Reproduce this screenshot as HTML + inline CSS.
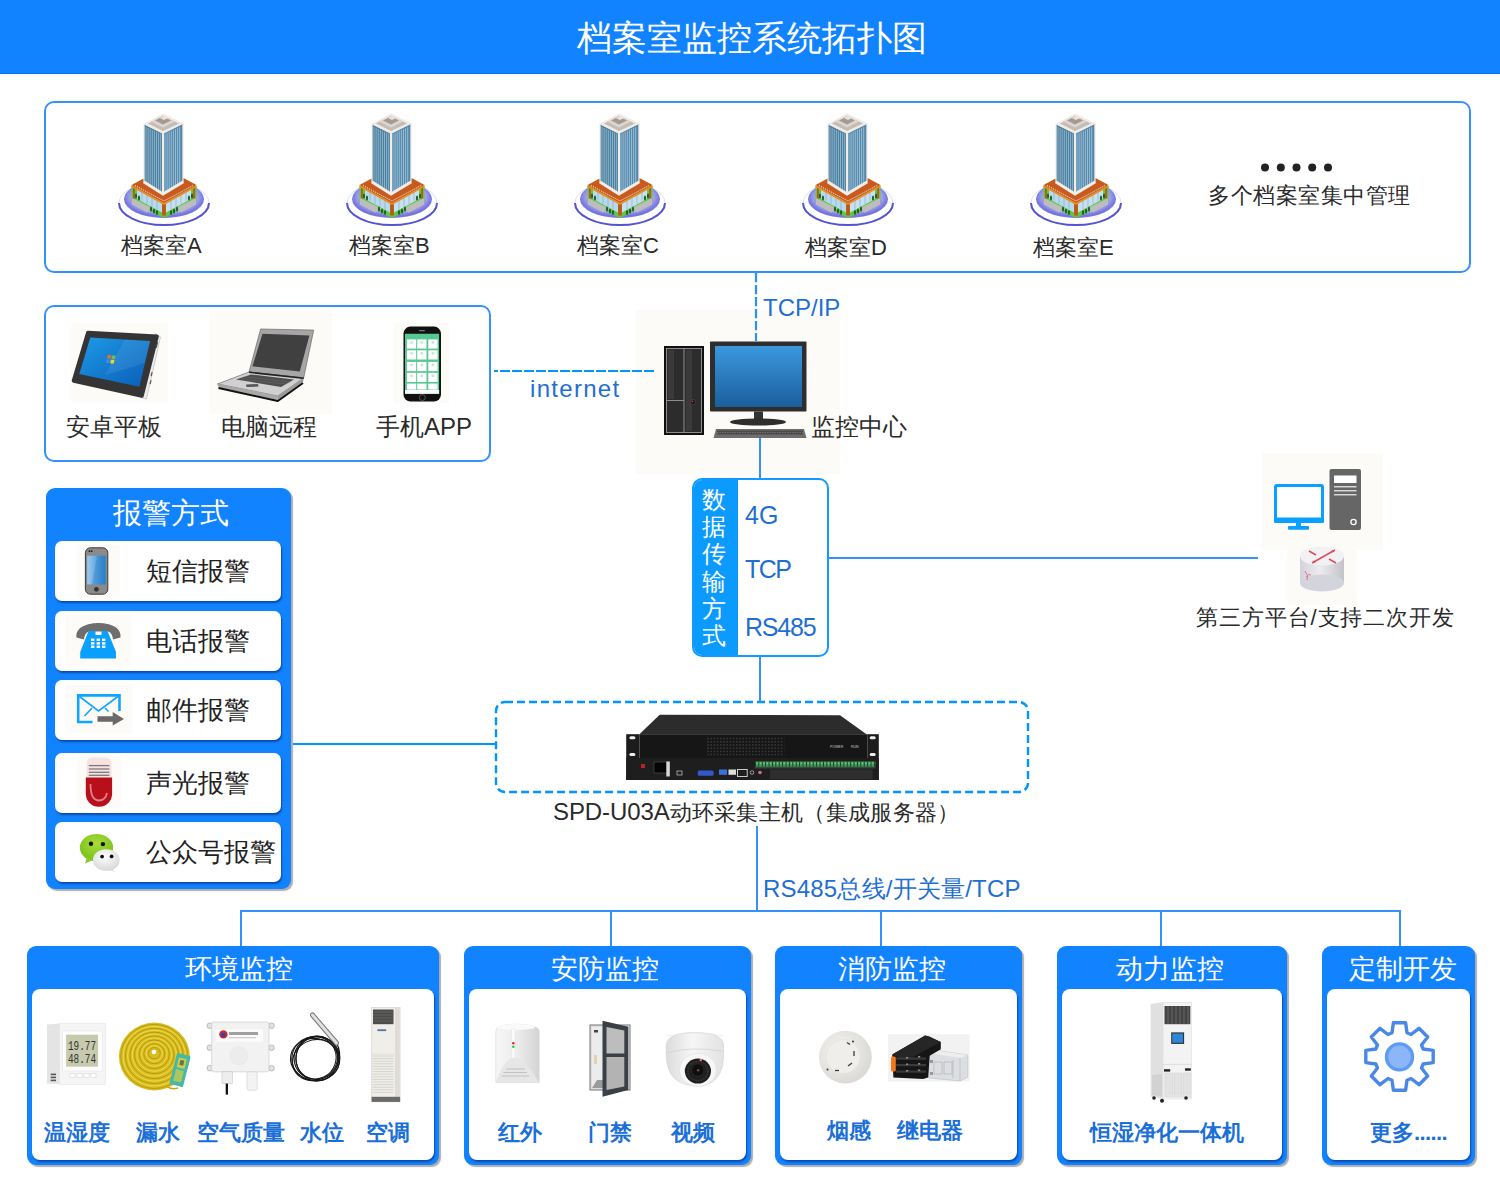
<!DOCTYPE html>
<html><head><meta charset="utf-8"><style>
*{margin:0;padding:0;box-sizing:border-box}
html,body{width:1500px;height:1200px;overflow:hidden;background:#fff;font-family:"Liberation Sans",sans-serif}
.a{position:absolute}
.t{position:absolute;white-space:nowrap;line-height:1}
.hdr{left:0;top:0;width:1500px;height:74px;background:#1283ff;border-bottom:1px solid #0078ff}
.ttl{left:0;width:1500px;top:20px;text-align:center;color:#fff;font-size:35px;padding-left:3px}
.ob{border:2px solid #3592fc;border-radius:10px}
.vl{position:absolute;width:2px;background:#3592fa}
.hl{position:absolute;height:2px;background:#3592fa}
.lbl{color:#2a2a2a;font-size:22px}
.blue{color:#1f6fd2}
.cat{position:absolute;background:#1283ff;border-radius:9px;box-shadow:2px 2px 1px rgba(0,0,0,.32)}
.cat .in{position:absolute;left:5px;right:5px;top:43px;bottom:5px;background:#fff;border-radius:8px;box-shadow:1px 2px 2px rgba(0,30,110,.55)}
.cat .h{position:absolute;left:0;right:0;top:10px;text-align:center;color:#fff;font-size:27px;line-height:1}
.cl{position:absolute;color:#1b6fd8;font-weight:bold;font-size:22px;line-height:1;white-space:nowrap}
.card{position:absolute;left:9px;width:226px;height:60px;background:#fff;border-radius:7px;box-shadow:1px 2px 2px rgba(0,30,110,.55)}
.card .tx{position:absolute;left:91px;top:17px;font-size:26px;color:#222;line-height:1;white-space:nowrap}
</style></head><body>
<div class="a hdr"></div>
<div class="a ob" style="left:44px;top:101px;width:1427px;height:172px"></div>
<div class="a ob" style="left:44px;top:305px;width:447px;height:157px"></div>
<div class="a" style="left:692px;top:478px;width:137px;height:179px;border:2px solid #119bff;border-radius:10px;overflow:hidden;background:#fff">
  <div class="a" style="left:0;top:0;width:44px;height:100%;background:#0b9bff"></div>
</div>
<div class="a" style="left:46px;top:488px;width:245px;height:401px;background:#1283ff;border-radius:9px;box-shadow:2px 2px 1px rgba(0,0,0,.32)">
  <div class="t" style="left:67px;top:11px;font-size:29px;color:#fff">报警方式</div>
  <div class="card" style="top:53px"><div class="tx">短信报警</div></div>
  <div class="card" style="top:123px"><div class="tx">电话报警</div></div>
  <div class="card" style="top:192px"><div class="tx">邮件报警</div></div>
  <div class="card" style="top:265px"><div class="tx">声光报警</div></div>
  <div class="card" style="top:334px"><div class="tx">公众号报警</div></div>
</div>
<div class="cat" style="left:27px;top:946px;width:412px;height:219px"><div class="h" style="left:12px">环境监控</div><div class="in"></div></div>
<div class="cat" style="left:464px;top:946px;width:287px;height:219px"><div class="h" style="left:-5px">安防监控</div><div class="in"></div></div>
<div class="cat" style="left:775px;top:946px;width:247px;height:219px"><div class="h" style="left:-14px">消防监控</div><div class="in"></div></div>
<div class="cat" style="left:1057px;top:946px;width:230px;height:219px"><div class="h" style="left:-4px">动力监控</div><div class="in"></div></div>
<div class="cat" style="left:1322px;top:946px;width:153px;height:219px"><div class="h" style="left:9px">定制开发</div><div class="in"></div></div>
<svg class="a" style="left:0;top:0" width="1500" height="1200" viewBox="0 0 1500 1200"><defs>
<radialGradient id="gEll" cx="50%" cy="45%" r="50%"><stop offset="0" stop-color="#ffffff"/><stop offset="0.6" stop-color="#e4e4fa"/><stop offset="1" stop-color="#7575e0"/></radialGradient>
<linearGradient id="gTab" x1="0" y1="0" x2="1" y2="1"><stop offset="0" stop-color="#1e9ae6"/><stop offset="1" stop-color="#0a5db8"/></linearGradient>
<linearGradient id="gMon" x1="0" y1="0" x2="0" y2="1"><stop offset="0" stop-color="#3b98de"/><stop offset="1" stop-color="#1b5e9c"/></linearGradient>
<linearGradient id="gPh" x1="0" y1="0" x2="1" y2="0"><stop offset="0" stop-color="#9ccaf0"/><stop offset="1" stop-color="#2a82cc"/></linearGradient>
<linearGradient id="gCyl" x1="0" y1="0" x2="1" y2="0"><stop offset="0" stop-color="#d2d2da"/><stop offset="0.45" stop-color="#ececf0"/><stop offset="1" stop-color="#c2c2ca"/></linearGradient>
<linearGradient id="gPir" x1="0" y1="0" x2="1" y2="0"><stop offset="0" stop-color="#f6f6f6"/><stop offset="0.5" stop-color="#ececec"/><stop offset="1" stop-color="#d4d4d4"/></linearGradient>
<radialGradient id="gSmk" cx="40%" cy="40%" r="60%"><stop offset="0" stop-color="#f8f6f3"/><stop offset="1" stop-color="#dcdad6"/></radialGradient>
<radialGradient id="gWc" cx="50%" cy="35%" r="60%"><stop offset="0" stop-color="#a8dc3a"/><stop offset="1" stop-color="#7cc21e"/></radialGradient>
<radialGradient id="gWw" cx="45%" cy="35%" r="65%"><stop offset="0" stop-color="#ffffff"/><stop offset="1" stop-color="#d8d8d8"/></radialGradient>
<pattern id="pTerm" width="3.4" height="5.3" patternUnits="userSpaceOnUse" x="135" y="56.5"><rect x="0" y="0" width="0.9" height="5.3" fill="#1c3a26"/><rect x="1.4" y="1" width="1.4" height="1.4" fill="#8fd8a0"/></pattern><linearGradient id="gDome" x1="0" y1="0" x2="1" y2="0"><stop offset="0" stop-color="#dcdcdc"/><stop offset="0.45" stop-color="#f6f6f6"/><stop offset="1" stop-color="#e2e2e2"/></linearGradient><pattern id="pVent" width="3.2" height="3.2" patternUnits="userSpaceOnUse"><circle cx="1.6" cy="1.6" r="0.85" fill="#3c3c3c"/></pattern>
</defs><g transform="translate(110,105)"><ellipse cx="54" cy="98" rx="45" ry="22" fill="#fff"/><path d="M9,98 A45,22 0 0 0 99,98" fill="none" stroke="#5353d4" stroke-width="2"/><path d="M9,98 A45,22 0 0 1 99,98" fill="none" stroke="#d6d6f4" stroke-width="0.8"/><ellipse cx="54" cy="94" rx="40" ry="19" fill="url(#gEll)"/><polygon points="21.5,81 54,64 86.5,81 86.5,97 54,113 21.5,97" fill="#62c840"/><polygon points="22,93 44,104 37,107.5 22,99.5" fill="#bdbdbd"/><polygon points="86,93 64,104 71,107.5 86,99.5" fill="#bdbdbd"/><polygon points="27,83.5 52,97 52,107.5 27,94" fill="#b6daee"/><polygon points="56,97 81,83.5 81,94 56,107.5" fill="#c4e2f3"/><line x1="32" y1="87.2" x2="32" y2="96.2" stroke="#8fa4b4" stroke-width="0.6"/><line x1="37" y1="89.9" x2="37" y2="98.9" stroke="#8fa4b4" stroke-width="0.6"/><line x1="42" y1="92.6" x2="42" y2="101.6" stroke="#8fa4b4" stroke-width="0.6"/><line x1="47" y1="95.3" x2="47" y2="104.3" stroke="#8fa4b4" stroke-width="0.6"/><line x1="61" y1="95.3" x2="61" y2="104.3" stroke="#8fa4b4" stroke-width="0.6"/><line x1="66" y1="92.6" x2="66" y2="101.6" stroke="#8fa4b4" stroke-width="0.6"/><line x1="71" y1="89.9" x2="71" y2="98.9" stroke="#8fa4b4" stroke-width="0.6"/><line x1="76" y1="87.2" x2="76" y2="96.2" stroke="#8fa4b4" stroke-width="0.6"/><rect x="52.2" y="97.5" width="3.6" height="13" fill="#c2521c"/><rect x="23" y="81.5" width="1.8" height="12" fill="#c2521c"/><rect x="83.2" y="81.5" width="1.8" height="12" fill="#c2521c"/><ellipse cx="26" cy="91" rx="1.1" ry="2.6" fill="#1f5f2a"/><ellipse cx="29" cy="93" rx="1.1" ry="2.6" fill="#1f5f2a"/><ellipse cx="41" cy="104" rx="1.1" ry="2.6" fill="#1f5f2a"/><ellipse cx="44" cy="106" rx="1.1" ry="2.6" fill="#1f5f2a"/><ellipse cx="47" cy="107.5" rx="1.1" ry="2.6" fill="#1f5f2a"/><ellipse cx="61" cy="107.5" rx="1.1" ry="2.6" fill="#1f5f2a"/><ellipse cx="64" cy="106" rx="1.1" ry="2.6" fill="#1f5f2a"/><ellipse cx="67" cy="104" rx="1.1" ry="2.6" fill="#1f5f2a"/><ellipse cx="79" cy="93" rx="1.1" ry="2.6" fill="#1f5f2a"/><ellipse cx="82" cy="91" rx="1.1" ry="2.6" fill="#1f5f2a"/><polygon points="21.5,80 54,62.5 86.5,80 54,98" fill="#c85a1e"/><polyline points="21.5,81 54,99 86.5,81" fill="none" stroke="#f08a22" stroke-width="1.6"/><polyline points="25,80.5 54,96 83,80.5" fill="none" stroke="#fff" stroke-width="0.9" stroke-dasharray="1.2,1.1"/><polygon points="34,19 53,28 53,90 34,78" fill="#4a7c9c"/><polygon points="53,28 73,18.5 73,78 53,90" fill="#5688aa"/><line x1="36.0" y1="21.9" x2="36.0" y2="77.3" stroke="#9cc4d8" stroke-width="0.8"/><line x1="38.1" y1="22.9" x2="38.1" y2="78.6" stroke="#9cc4d8" stroke-width="0.8"/><line x1="40.2" y1="23.9" x2="40.2" y2="79.9" stroke="#9cc4d8" stroke-width="0.8"/><line x1="42.3" y1="24.9" x2="42.3" y2="81.2" stroke="#9cc4d8" stroke-width="0.8"/><line x1="44.4" y1="25.9" x2="44.4" y2="82.6" stroke="#9cc4d8" stroke-width="0.8"/><line x1="46.5" y1="26.9" x2="46.5" y2="83.9" stroke="#9cc4d8" stroke-width="0.8"/><line x1="48.6" y1="27.9" x2="48.6" y2="85.2" stroke="#9cc4d8" stroke-width="0.8"/><line x1="50.7" y1="28.9" x2="50.7" y2="86.5" stroke="#9cc4d8" stroke-width="0.8"/><line x1="55.0" y1="29.1" x2="55.0" y2="86.8" stroke="#a6cce0" stroke-width="0.8"/><line x1="57.1" y1="28.1" x2="57.1" y2="85.5" stroke="#a6cce0" stroke-width="0.8"/><line x1="59.2" y1="27.1" x2="59.2" y2="84.3" stroke="#a6cce0" stroke-width="0.8"/><line x1="61.3" y1="26.1" x2="61.3" y2="83.0" stroke="#a6cce0" stroke-width="0.8"/><line x1="63.4" y1="25.1" x2="63.4" y2="81.8" stroke="#a6cce0" stroke-width="0.8"/><line x1="65.5" y1="24.1" x2="65.5" y2="80.5" stroke="#a6cce0" stroke-width="0.8"/><line x1="67.6" y1="23.1" x2="67.6" y2="79.2" stroke="#a6cce0" stroke-width="0.8"/><line x1="69.7" y1="22.1" x2="69.7" y2="78.0" stroke="#a6cce0" stroke-width="0.8"/><line x1="53" y1="28" x2="53" y2="90" stroke="#f3ede8" stroke-width="2"/><line x1="34" y1="19" x2="34" y2="78" stroke="#f3ede8" stroke-width="1.3"/><line x1="73" y1="18.5" x2="73" y2="78" stroke="#f3ede8" stroke-width="1.3"/><polyline points="34,77 53,89 73,77" fill="none" stroke="#f3ede8" stroke-width="3"/><polygon points="33,19 53,8.5 74,18.5 53,29" fill="#f1ebe5"/><polygon points="38,18.5 53,11 69,18.5 53,26" fill="#c4bcb5"/><polygon points="41,16.5 53,10.5 65,16.5 53,22.5" fill="#ddd6d0"/><polygon points="45,15.5 53,11.5 61,15.5 53,19.5" fill="#a39a93"/><polygon points="50,13 54,11 58,13 54,15" fill="#e8e2dc"/></g><g transform="translate(338,105)"><ellipse cx="54" cy="98" rx="45" ry="22" fill="#fff"/><path d="M9,98 A45,22 0 0 0 99,98" fill="none" stroke="#5353d4" stroke-width="2"/><path d="M9,98 A45,22 0 0 1 99,98" fill="none" stroke="#d6d6f4" stroke-width="0.8"/><ellipse cx="54" cy="94" rx="40" ry="19" fill="url(#gEll)"/><polygon points="21.5,81 54,64 86.5,81 86.5,97 54,113 21.5,97" fill="#62c840"/><polygon points="22,93 44,104 37,107.5 22,99.5" fill="#bdbdbd"/><polygon points="86,93 64,104 71,107.5 86,99.5" fill="#bdbdbd"/><polygon points="27,83.5 52,97 52,107.5 27,94" fill="#b6daee"/><polygon points="56,97 81,83.5 81,94 56,107.5" fill="#c4e2f3"/><line x1="32" y1="87.2" x2="32" y2="96.2" stroke="#8fa4b4" stroke-width="0.6"/><line x1="37" y1="89.9" x2="37" y2="98.9" stroke="#8fa4b4" stroke-width="0.6"/><line x1="42" y1="92.6" x2="42" y2="101.6" stroke="#8fa4b4" stroke-width="0.6"/><line x1="47" y1="95.3" x2="47" y2="104.3" stroke="#8fa4b4" stroke-width="0.6"/><line x1="61" y1="95.3" x2="61" y2="104.3" stroke="#8fa4b4" stroke-width="0.6"/><line x1="66" y1="92.6" x2="66" y2="101.6" stroke="#8fa4b4" stroke-width="0.6"/><line x1="71" y1="89.9" x2="71" y2="98.9" stroke="#8fa4b4" stroke-width="0.6"/><line x1="76" y1="87.2" x2="76" y2="96.2" stroke="#8fa4b4" stroke-width="0.6"/><rect x="52.2" y="97.5" width="3.6" height="13" fill="#c2521c"/><rect x="23" y="81.5" width="1.8" height="12" fill="#c2521c"/><rect x="83.2" y="81.5" width="1.8" height="12" fill="#c2521c"/><ellipse cx="26" cy="91" rx="1.1" ry="2.6" fill="#1f5f2a"/><ellipse cx="29" cy="93" rx="1.1" ry="2.6" fill="#1f5f2a"/><ellipse cx="41" cy="104" rx="1.1" ry="2.6" fill="#1f5f2a"/><ellipse cx="44" cy="106" rx="1.1" ry="2.6" fill="#1f5f2a"/><ellipse cx="47" cy="107.5" rx="1.1" ry="2.6" fill="#1f5f2a"/><ellipse cx="61" cy="107.5" rx="1.1" ry="2.6" fill="#1f5f2a"/><ellipse cx="64" cy="106" rx="1.1" ry="2.6" fill="#1f5f2a"/><ellipse cx="67" cy="104" rx="1.1" ry="2.6" fill="#1f5f2a"/><ellipse cx="79" cy="93" rx="1.1" ry="2.6" fill="#1f5f2a"/><ellipse cx="82" cy="91" rx="1.1" ry="2.6" fill="#1f5f2a"/><polygon points="21.5,80 54,62.5 86.5,80 54,98" fill="#c85a1e"/><polyline points="21.5,81 54,99 86.5,81" fill="none" stroke="#f08a22" stroke-width="1.6"/><polyline points="25,80.5 54,96 83,80.5" fill="none" stroke="#fff" stroke-width="0.9" stroke-dasharray="1.2,1.1"/><polygon points="34,19 53,28 53,90 34,78" fill="#4a7c9c"/><polygon points="53,28 73,18.5 73,78 53,90" fill="#5688aa"/><line x1="36.0" y1="21.9" x2="36.0" y2="77.3" stroke="#9cc4d8" stroke-width="0.8"/><line x1="38.1" y1="22.9" x2="38.1" y2="78.6" stroke="#9cc4d8" stroke-width="0.8"/><line x1="40.2" y1="23.9" x2="40.2" y2="79.9" stroke="#9cc4d8" stroke-width="0.8"/><line x1="42.3" y1="24.9" x2="42.3" y2="81.2" stroke="#9cc4d8" stroke-width="0.8"/><line x1="44.4" y1="25.9" x2="44.4" y2="82.6" stroke="#9cc4d8" stroke-width="0.8"/><line x1="46.5" y1="26.9" x2="46.5" y2="83.9" stroke="#9cc4d8" stroke-width="0.8"/><line x1="48.6" y1="27.9" x2="48.6" y2="85.2" stroke="#9cc4d8" stroke-width="0.8"/><line x1="50.7" y1="28.9" x2="50.7" y2="86.5" stroke="#9cc4d8" stroke-width="0.8"/><line x1="55.0" y1="29.1" x2="55.0" y2="86.8" stroke="#a6cce0" stroke-width="0.8"/><line x1="57.1" y1="28.1" x2="57.1" y2="85.5" stroke="#a6cce0" stroke-width="0.8"/><line x1="59.2" y1="27.1" x2="59.2" y2="84.3" stroke="#a6cce0" stroke-width="0.8"/><line x1="61.3" y1="26.1" x2="61.3" y2="83.0" stroke="#a6cce0" stroke-width="0.8"/><line x1="63.4" y1="25.1" x2="63.4" y2="81.8" stroke="#a6cce0" stroke-width="0.8"/><line x1="65.5" y1="24.1" x2="65.5" y2="80.5" stroke="#a6cce0" stroke-width="0.8"/><line x1="67.6" y1="23.1" x2="67.6" y2="79.2" stroke="#a6cce0" stroke-width="0.8"/><line x1="69.7" y1="22.1" x2="69.7" y2="78.0" stroke="#a6cce0" stroke-width="0.8"/><line x1="53" y1="28" x2="53" y2="90" stroke="#f3ede8" stroke-width="2"/><line x1="34" y1="19" x2="34" y2="78" stroke="#f3ede8" stroke-width="1.3"/><line x1="73" y1="18.5" x2="73" y2="78" stroke="#f3ede8" stroke-width="1.3"/><polyline points="34,77 53,89 73,77" fill="none" stroke="#f3ede8" stroke-width="3"/><polygon points="33,19 53,8.5 74,18.5 53,29" fill="#f1ebe5"/><polygon points="38,18.5 53,11 69,18.5 53,26" fill="#c4bcb5"/><polygon points="41,16.5 53,10.5 65,16.5 53,22.5" fill="#ddd6d0"/><polygon points="45,15.5 53,11.5 61,15.5 53,19.5" fill="#a39a93"/><polygon points="50,13 54,11 58,13 54,15" fill="#e8e2dc"/></g><g transform="translate(566,105)"><ellipse cx="54" cy="98" rx="45" ry="22" fill="#fff"/><path d="M9,98 A45,22 0 0 0 99,98" fill="none" stroke="#5353d4" stroke-width="2"/><path d="M9,98 A45,22 0 0 1 99,98" fill="none" stroke="#d6d6f4" stroke-width="0.8"/><ellipse cx="54" cy="94" rx="40" ry="19" fill="url(#gEll)"/><polygon points="21.5,81 54,64 86.5,81 86.5,97 54,113 21.5,97" fill="#62c840"/><polygon points="22,93 44,104 37,107.5 22,99.5" fill="#bdbdbd"/><polygon points="86,93 64,104 71,107.5 86,99.5" fill="#bdbdbd"/><polygon points="27,83.5 52,97 52,107.5 27,94" fill="#b6daee"/><polygon points="56,97 81,83.5 81,94 56,107.5" fill="#c4e2f3"/><line x1="32" y1="87.2" x2="32" y2="96.2" stroke="#8fa4b4" stroke-width="0.6"/><line x1="37" y1="89.9" x2="37" y2="98.9" stroke="#8fa4b4" stroke-width="0.6"/><line x1="42" y1="92.6" x2="42" y2="101.6" stroke="#8fa4b4" stroke-width="0.6"/><line x1="47" y1="95.3" x2="47" y2="104.3" stroke="#8fa4b4" stroke-width="0.6"/><line x1="61" y1="95.3" x2="61" y2="104.3" stroke="#8fa4b4" stroke-width="0.6"/><line x1="66" y1="92.6" x2="66" y2="101.6" stroke="#8fa4b4" stroke-width="0.6"/><line x1="71" y1="89.9" x2="71" y2="98.9" stroke="#8fa4b4" stroke-width="0.6"/><line x1="76" y1="87.2" x2="76" y2="96.2" stroke="#8fa4b4" stroke-width="0.6"/><rect x="52.2" y="97.5" width="3.6" height="13" fill="#c2521c"/><rect x="23" y="81.5" width="1.8" height="12" fill="#c2521c"/><rect x="83.2" y="81.5" width="1.8" height="12" fill="#c2521c"/><ellipse cx="26" cy="91" rx="1.1" ry="2.6" fill="#1f5f2a"/><ellipse cx="29" cy="93" rx="1.1" ry="2.6" fill="#1f5f2a"/><ellipse cx="41" cy="104" rx="1.1" ry="2.6" fill="#1f5f2a"/><ellipse cx="44" cy="106" rx="1.1" ry="2.6" fill="#1f5f2a"/><ellipse cx="47" cy="107.5" rx="1.1" ry="2.6" fill="#1f5f2a"/><ellipse cx="61" cy="107.5" rx="1.1" ry="2.6" fill="#1f5f2a"/><ellipse cx="64" cy="106" rx="1.1" ry="2.6" fill="#1f5f2a"/><ellipse cx="67" cy="104" rx="1.1" ry="2.6" fill="#1f5f2a"/><ellipse cx="79" cy="93" rx="1.1" ry="2.6" fill="#1f5f2a"/><ellipse cx="82" cy="91" rx="1.1" ry="2.6" fill="#1f5f2a"/><polygon points="21.5,80 54,62.5 86.5,80 54,98" fill="#c85a1e"/><polyline points="21.5,81 54,99 86.5,81" fill="none" stroke="#f08a22" stroke-width="1.6"/><polyline points="25,80.5 54,96 83,80.5" fill="none" stroke="#fff" stroke-width="0.9" stroke-dasharray="1.2,1.1"/><polygon points="34,19 53,28 53,90 34,78" fill="#4a7c9c"/><polygon points="53,28 73,18.5 73,78 53,90" fill="#5688aa"/><line x1="36.0" y1="21.9" x2="36.0" y2="77.3" stroke="#9cc4d8" stroke-width="0.8"/><line x1="38.1" y1="22.9" x2="38.1" y2="78.6" stroke="#9cc4d8" stroke-width="0.8"/><line x1="40.2" y1="23.9" x2="40.2" y2="79.9" stroke="#9cc4d8" stroke-width="0.8"/><line x1="42.3" y1="24.9" x2="42.3" y2="81.2" stroke="#9cc4d8" stroke-width="0.8"/><line x1="44.4" y1="25.9" x2="44.4" y2="82.6" stroke="#9cc4d8" stroke-width="0.8"/><line x1="46.5" y1="26.9" x2="46.5" y2="83.9" stroke="#9cc4d8" stroke-width="0.8"/><line x1="48.6" y1="27.9" x2="48.6" y2="85.2" stroke="#9cc4d8" stroke-width="0.8"/><line x1="50.7" y1="28.9" x2="50.7" y2="86.5" stroke="#9cc4d8" stroke-width="0.8"/><line x1="55.0" y1="29.1" x2="55.0" y2="86.8" stroke="#a6cce0" stroke-width="0.8"/><line x1="57.1" y1="28.1" x2="57.1" y2="85.5" stroke="#a6cce0" stroke-width="0.8"/><line x1="59.2" y1="27.1" x2="59.2" y2="84.3" stroke="#a6cce0" stroke-width="0.8"/><line x1="61.3" y1="26.1" x2="61.3" y2="83.0" stroke="#a6cce0" stroke-width="0.8"/><line x1="63.4" y1="25.1" x2="63.4" y2="81.8" stroke="#a6cce0" stroke-width="0.8"/><line x1="65.5" y1="24.1" x2="65.5" y2="80.5" stroke="#a6cce0" stroke-width="0.8"/><line x1="67.6" y1="23.1" x2="67.6" y2="79.2" stroke="#a6cce0" stroke-width="0.8"/><line x1="69.7" y1="22.1" x2="69.7" y2="78.0" stroke="#a6cce0" stroke-width="0.8"/><line x1="53" y1="28" x2="53" y2="90" stroke="#f3ede8" stroke-width="2"/><line x1="34" y1="19" x2="34" y2="78" stroke="#f3ede8" stroke-width="1.3"/><line x1="73" y1="18.5" x2="73" y2="78" stroke="#f3ede8" stroke-width="1.3"/><polyline points="34,77 53,89 73,77" fill="none" stroke="#f3ede8" stroke-width="3"/><polygon points="33,19 53,8.5 74,18.5 53,29" fill="#f1ebe5"/><polygon points="38,18.5 53,11 69,18.5 53,26" fill="#c4bcb5"/><polygon points="41,16.5 53,10.5 65,16.5 53,22.5" fill="#ddd6d0"/><polygon points="45,15.5 53,11.5 61,15.5 53,19.5" fill="#a39a93"/><polygon points="50,13 54,11 58,13 54,15" fill="#e8e2dc"/></g><g transform="translate(794,105)"><ellipse cx="54" cy="98" rx="45" ry="22" fill="#fff"/><path d="M9,98 A45,22 0 0 0 99,98" fill="none" stroke="#5353d4" stroke-width="2"/><path d="M9,98 A45,22 0 0 1 99,98" fill="none" stroke="#d6d6f4" stroke-width="0.8"/><ellipse cx="54" cy="94" rx="40" ry="19" fill="url(#gEll)"/><polygon points="21.5,81 54,64 86.5,81 86.5,97 54,113 21.5,97" fill="#62c840"/><polygon points="22,93 44,104 37,107.5 22,99.5" fill="#bdbdbd"/><polygon points="86,93 64,104 71,107.5 86,99.5" fill="#bdbdbd"/><polygon points="27,83.5 52,97 52,107.5 27,94" fill="#b6daee"/><polygon points="56,97 81,83.5 81,94 56,107.5" fill="#c4e2f3"/><line x1="32" y1="87.2" x2="32" y2="96.2" stroke="#8fa4b4" stroke-width="0.6"/><line x1="37" y1="89.9" x2="37" y2="98.9" stroke="#8fa4b4" stroke-width="0.6"/><line x1="42" y1="92.6" x2="42" y2="101.6" stroke="#8fa4b4" stroke-width="0.6"/><line x1="47" y1="95.3" x2="47" y2="104.3" stroke="#8fa4b4" stroke-width="0.6"/><line x1="61" y1="95.3" x2="61" y2="104.3" stroke="#8fa4b4" stroke-width="0.6"/><line x1="66" y1="92.6" x2="66" y2="101.6" stroke="#8fa4b4" stroke-width="0.6"/><line x1="71" y1="89.9" x2="71" y2="98.9" stroke="#8fa4b4" stroke-width="0.6"/><line x1="76" y1="87.2" x2="76" y2="96.2" stroke="#8fa4b4" stroke-width="0.6"/><rect x="52.2" y="97.5" width="3.6" height="13" fill="#c2521c"/><rect x="23" y="81.5" width="1.8" height="12" fill="#c2521c"/><rect x="83.2" y="81.5" width="1.8" height="12" fill="#c2521c"/><ellipse cx="26" cy="91" rx="1.1" ry="2.6" fill="#1f5f2a"/><ellipse cx="29" cy="93" rx="1.1" ry="2.6" fill="#1f5f2a"/><ellipse cx="41" cy="104" rx="1.1" ry="2.6" fill="#1f5f2a"/><ellipse cx="44" cy="106" rx="1.1" ry="2.6" fill="#1f5f2a"/><ellipse cx="47" cy="107.5" rx="1.1" ry="2.6" fill="#1f5f2a"/><ellipse cx="61" cy="107.5" rx="1.1" ry="2.6" fill="#1f5f2a"/><ellipse cx="64" cy="106" rx="1.1" ry="2.6" fill="#1f5f2a"/><ellipse cx="67" cy="104" rx="1.1" ry="2.6" fill="#1f5f2a"/><ellipse cx="79" cy="93" rx="1.1" ry="2.6" fill="#1f5f2a"/><ellipse cx="82" cy="91" rx="1.1" ry="2.6" fill="#1f5f2a"/><polygon points="21.5,80 54,62.5 86.5,80 54,98" fill="#c85a1e"/><polyline points="21.5,81 54,99 86.5,81" fill="none" stroke="#f08a22" stroke-width="1.6"/><polyline points="25,80.5 54,96 83,80.5" fill="none" stroke="#fff" stroke-width="0.9" stroke-dasharray="1.2,1.1"/><polygon points="34,19 53,28 53,90 34,78" fill="#4a7c9c"/><polygon points="53,28 73,18.5 73,78 53,90" fill="#5688aa"/><line x1="36.0" y1="21.9" x2="36.0" y2="77.3" stroke="#9cc4d8" stroke-width="0.8"/><line x1="38.1" y1="22.9" x2="38.1" y2="78.6" stroke="#9cc4d8" stroke-width="0.8"/><line x1="40.2" y1="23.9" x2="40.2" y2="79.9" stroke="#9cc4d8" stroke-width="0.8"/><line x1="42.3" y1="24.9" x2="42.3" y2="81.2" stroke="#9cc4d8" stroke-width="0.8"/><line x1="44.4" y1="25.9" x2="44.4" y2="82.6" stroke="#9cc4d8" stroke-width="0.8"/><line x1="46.5" y1="26.9" x2="46.5" y2="83.9" stroke="#9cc4d8" stroke-width="0.8"/><line x1="48.6" y1="27.9" x2="48.6" y2="85.2" stroke="#9cc4d8" stroke-width="0.8"/><line x1="50.7" y1="28.9" x2="50.7" y2="86.5" stroke="#9cc4d8" stroke-width="0.8"/><line x1="55.0" y1="29.1" x2="55.0" y2="86.8" stroke="#a6cce0" stroke-width="0.8"/><line x1="57.1" y1="28.1" x2="57.1" y2="85.5" stroke="#a6cce0" stroke-width="0.8"/><line x1="59.2" y1="27.1" x2="59.2" y2="84.3" stroke="#a6cce0" stroke-width="0.8"/><line x1="61.3" y1="26.1" x2="61.3" y2="83.0" stroke="#a6cce0" stroke-width="0.8"/><line x1="63.4" y1="25.1" x2="63.4" y2="81.8" stroke="#a6cce0" stroke-width="0.8"/><line x1="65.5" y1="24.1" x2="65.5" y2="80.5" stroke="#a6cce0" stroke-width="0.8"/><line x1="67.6" y1="23.1" x2="67.6" y2="79.2" stroke="#a6cce0" stroke-width="0.8"/><line x1="69.7" y1="22.1" x2="69.7" y2="78.0" stroke="#a6cce0" stroke-width="0.8"/><line x1="53" y1="28" x2="53" y2="90" stroke="#f3ede8" stroke-width="2"/><line x1="34" y1="19" x2="34" y2="78" stroke="#f3ede8" stroke-width="1.3"/><line x1="73" y1="18.5" x2="73" y2="78" stroke="#f3ede8" stroke-width="1.3"/><polyline points="34,77 53,89 73,77" fill="none" stroke="#f3ede8" stroke-width="3"/><polygon points="33,19 53,8.5 74,18.5 53,29" fill="#f1ebe5"/><polygon points="38,18.5 53,11 69,18.5 53,26" fill="#c4bcb5"/><polygon points="41,16.5 53,10.5 65,16.5 53,22.5" fill="#ddd6d0"/><polygon points="45,15.5 53,11.5 61,15.5 53,19.5" fill="#a39a93"/><polygon points="50,13 54,11 58,13 54,15" fill="#e8e2dc"/></g><g transform="translate(1022,105)"><ellipse cx="54" cy="98" rx="45" ry="22" fill="#fff"/><path d="M9,98 A45,22 0 0 0 99,98" fill="none" stroke="#5353d4" stroke-width="2"/><path d="M9,98 A45,22 0 0 1 99,98" fill="none" stroke="#d6d6f4" stroke-width="0.8"/><ellipse cx="54" cy="94" rx="40" ry="19" fill="url(#gEll)"/><polygon points="21.5,81 54,64 86.5,81 86.5,97 54,113 21.5,97" fill="#62c840"/><polygon points="22,93 44,104 37,107.5 22,99.5" fill="#bdbdbd"/><polygon points="86,93 64,104 71,107.5 86,99.5" fill="#bdbdbd"/><polygon points="27,83.5 52,97 52,107.5 27,94" fill="#b6daee"/><polygon points="56,97 81,83.5 81,94 56,107.5" fill="#c4e2f3"/><line x1="32" y1="87.2" x2="32" y2="96.2" stroke="#8fa4b4" stroke-width="0.6"/><line x1="37" y1="89.9" x2="37" y2="98.9" stroke="#8fa4b4" stroke-width="0.6"/><line x1="42" y1="92.6" x2="42" y2="101.6" stroke="#8fa4b4" stroke-width="0.6"/><line x1="47" y1="95.3" x2="47" y2="104.3" stroke="#8fa4b4" stroke-width="0.6"/><line x1="61" y1="95.3" x2="61" y2="104.3" stroke="#8fa4b4" stroke-width="0.6"/><line x1="66" y1="92.6" x2="66" y2="101.6" stroke="#8fa4b4" stroke-width="0.6"/><line x1="71" y1="89.9" x2="71" y2="98.9" stroke="#8fa4b4" stroke-width="0.6"/><line x1="76" y1="87.2" x2="76" y2="96.2" stroke="#8fa4b4" stroke-width="0.6"/><rect x="52.2" y="97.5" width="3.6" height="13" fill="#c2521c"/><rect x="23" y="81.5" width="1.8" height="12" fill="#c2521c"/><rect x="83.2" y="81.5" width="1.8" height="12" fill="#c2521c"/><ellipse cx="26" cy="91" rx="1.1" ry="2.6" fill="#1f5f2a"/><ellipse cx="29" cy="93" rx="1.1" ry="2.6" fill="#1f5f2a"/><ellipse cx="41" cy="104" rx="1.1" ry="2.6" fill="#1f5f2a"/><ellipse cx="44" cy="106" rx="1.1" ry="2.6" fill="#1f5f2a"/><ellipse cx="47" cy="107.5" rx="1.1" ry="2.6" fill="#1f5f2a"/><ellipse cx="61" cy="107.5" rx="1.1" ry="2.6" fill="#1f5f2a"/><ellipse cx="64" cy="106" rx="1.1" ry="2.6" fill="#1f5f2a"/><ellipse cx="67" cy="104" rx="1.1" ry="2.6" fill="#1f5f2a"/><ellipse cx="79" cy="93" rx="1.1" ry="2.6" fill="#1f5f2a"/><ellipse cx="82" cy="91" rx="1.1" ry="2.6" fill="#1f5f2a"/><polygon points="21.5,80 54,62.5 86.5,80 54,98" fill="#c85a1e"/><polyline points="21.5,81 54,99 86.5,81" fill="none" stroke="#f08a22" stroke-width="1.6"/><polyline points="25,80.5 54,96 83,80.5" fill="none" stroke="#fff" stroke-width="0.9" stroke-dasharray="1.2,1.1"/><polygon points="34,19 53,28 53,90 34,78" fill="#4a7c9c"/><polygon points="53,28 73,18.5 73,78 53,90" fill="#5688aa"/><line x1="36.0" y1="21.9" x2="36.0" y2="77.3" stroke="#9cc4d8" stroke-width="0.8"/><line x1="38.1" y1="22.9" x2="38.1" y2="78.6" stroke="#9cc4d8" stroke-width="0.8"/><line x1="40.2" y1="23.9" x2="40.2" y2="79.9" stroke="#9cc4d8" stroke-width="0.8"/><line x1="42.3" y1="24.9" x2="42.3" y2="81.2" stroke="#9cc4d8" stroke-width="0.8"/><line x1="44.4" y1="25.9" x2="44.4" y2="82.6" stroke="#9cc4d8" stroke-width="0.8"/><line x1="46.5" y1="26.9" x2="46.5" y2="83.9" stroke="#9cc4d8" stroke-width="0.8"/><line x1="48.6" y1="27.9" x2="48.6" y2="85.2" stroke="#9cc4d8" stroke-width="0.8"/><line x1="50.7" y1="28.9" x2="50.7" y2="86.5" stroke="#9cc4d8" stroke-width="0.8"/><line x1="55.0" y1="29.1" x2="55.0" y2="86.8" stroke="#a6cce0" stroke-width="0.8"/><line x1="57.1" y1="28.1" x2="57.1" y2="85.5" stroke="#a6cce0" stroke-width="0.8"/><line x1="59.2" y1="27.1" x2="59.2" y2="84.3" stroke="#a6cce0" stroke-width="0.8"/><line x1="61.3" y1="26.1" x2="61.3" y2="83.0" stroke="#a6cce0" stroke-width="0.8"/><line x1="63.4" y1="25.1" x2="63.4" y2="81.8" stroke="#a6cce0" stroke-width="0.8"/><line x1="65.5" y1="24.1" x2="65.5" y2="80.5" stroke="#a6cce0" stroke-width="0.8"/><line x1="67.6" y1="23.1" x2="67.6" y2="79.2" stroke="#a6cce0" stroke-width="0.8"/><line x1="69.7" y1="22.1" x2="69.7" y2="78.0" stroke="#a6cce0" stroke-width="0.8"/><line x1="53" y1="28" x2="53" y2="90" stroke="#f3ede8" stroke-width="2"/><line x1="34" y1="19" x2="34" y2="78" stroke="#f3ede8" stroke-width="1.3"/><line x1="73" y1="18.5" x2="73" y2="78" stroke="#f3ede8" stroke-width="1.3"/><polyline points="34,77 53,89 73,77" fill="none" stroke="#f3ede8" stroke-width="3"/><polygon points="33,19 53,8.5 74,18.5 53,29" fill="#f1ebe5"/><polygon points="38,18.5 53,11 69,18.5 53,26" fill="#c4bcb5"/><polygon points="41,16.5 53,10.5 65,16.5 53,22.5" fill="#ddd6d0"/><polygon points="45,15.5 53,11.5 61,15.5 53,19.5" fill="#a39a93"/><polygon points="50,13 54,11 58,13 54,15" fill="#e8e2dc"/></g><circle cx="1265.0" cy="167.5" r="4" fill="#222"/><circle cx="1280.8" cy="167.5" r="4" fill="#222"/><circle cx="1296.5" cy="167.5" r="4" fill="#222"/><circle cx="1312.2" cy="167.5" r="4" fill="#222"/><circle cx="1328.0" cy="167.5" r="4" fill="#222"/><g transform="translate(65,315)">
<rect x="6" y="7.5" width="97" height="80" fill="#fcfbf7"/>
<polygon points="90,18.5 95.5,22 81.5,84 75.5,82.5" fill="#ececec" stroke="#bdbdbd" stroke-width="0.7" stroke-linejoin="round"/><g fill="#555"><rect x="91.3" y="27" width="1.2" height="6" transform="rotate(14 92 30)"/><rect x="86" y="57" width="1.2" height="4" transform="rotate(14 86 59)"/><rect x="85" y="65" width="1.2" height="4" transform="rotate(14 85 67)"/></g>
<polygon points="23,17.8 91.8,21.4 76.8,80.8 8.7,65.7" fill="#353535" stroke="#353535" stroke-width="4" stroke-linejoin="round"/>
<polygon points="25.3,22.6 85.1,26.1 74.4,71.7 14.3,59" fill="url(#gTab)"/>
<polygon points="60,24.5 85.1,26.1 80,48 40,60" fill="#fff" opacity="0.08"/>
<g transform="translate(46,44) skewX(-10)"><rect x="-4" y="-4" width="3.6" height="3.6" fill="#f06a2a"/><rect x="0.4" y="-3.6" width="3.6" height="3.6" fill="#6cc04a"/><rect x="-4.4" y="0.4" width="3.6" height="3.6" fill="#3a8ee8"/><rect x="0" y="0.8" width="3.6" height="3.6" fill="#f6d22a"/></g>
</g><g transform="translate(205,305)">
<rect x="4.8" y="5.7" width="122" height="103.3" fill="#fcfbf7"/>
<polygon points="55.6,24 108.7,25.1 98.7,72.8 44,67" fill="#a6a6a6" stroke="#6a6a6a" stroke-width="0.7"/>
<polygon points="57.5,28.7 104.4,30.5 94.8,66.6 47.4,61.3" fill="#404040"/>
<polygon points="12.5,79 44,67 98.7,73 72.8,91" fill="#d0d0d0" stroke="#555" stroke-width="0.6"/>
<polygon points="12.5,79 72.8,91 72.8,95 13.5,82.5" fill="#a8a8a8"/>
<polygon points="72.8,91 98.7,73 98,77 72.8,95" fill="#9a9a9a"/>
<polyline points="13.5,83 72.8,96 98,78" fill="none" stroke="#111" stroke-width="2" stroke-linejoin="round"/>
<polyline points="44,67.3 98.7,73.3" fill="none" stroke="#222" stroke-width="1.6"/>
<polygon points="31,74.5 46,69.5 89,74.5 76,82" fill="#4e4e4e"/>
<g stroke="#777" stroke-width="0.4"><line x1="36" y1="74" x2="81" y2="79"/><line x1="40" y1="72" x2="85" y2="77"/></g>
<polygon points="41,79.5 53,79 53.5,81.6 41.5,82" fill="#555"/>
</g><g transform="translate(390,318)"><rect x="4" y="4.9" width="55" height="80" fill="#fcfbf7"/><rect x="13.5" y="8.6" width="37.5" height="75" rx="7" fill="#111"/><rect x="15" y="15.75" width="34.1" height="60" fill="#56c892"/><rect x="16.9" y="21.4" width="9.3" height="9.2" fill="#fff"/><circle cx="21.5" cy="24.4" r="1.4" fill="#bfe8d2"/><rect x="16.9" y="32.3" width="9.3" height="9.2" fill="#fff"/><circle cx="21.5" cy="35.3" r="1.4" fill="#bfe8d2"/><rect x="16.9" y="43.9" width="9.3" height="9.2" fill="#fff"/><circle cx="21.5" cy="46.9" r="1.4" fill="#bfe8d2"/><rect x="16.9" y="54.8" width="9.3" height="9.2" fill="#fff"/><circle cx="21.5" cy="57.8" r="1.4" fill="#bfe8d2"/><rect x="16.9" y="65.6" width="9.3" height="6" fill="#fff"/><rect x="27.2" y="21.4" width="9.3" height="9.2" fill="#fff"/><circle cx="31.8" cy="24.4" r="1.4" fill="#bfe8d2"/><rect x="27.2" y="32.3" width="9.3" height="9.2" fill="#fff"/><circle cx="31.8" cy="35.3" r="1.4" fill="#bfe8d2"/><rect x="27.2" y="43.9" width="9.3" height="9.2" fill="#fff"/><circle cx="31.8" cy="46.9" r="1.4" fill="#bfe8d2"/><rect x="27.2" y="54.8" width="9.3" height="9.2" fill="#fff"/><circle cx="31.8" cy="57.8" r="1.4" fill="#bfe8d2"/><rect x="27.2" y="65.6" width="9.3" height="6" fill="#fff"/><rect x="38.3" y="21.4" width="9.3" height="9.2" fill="#fff"/><circle cx="42.9" cy="24.4" r="1.4" fill="#bfe8d2"/><rect x="38.3" y="32.3" width="9.3" height="9.2" fill="#fff"/><circle cx="42.9" cy="35.3" r="1.4" fill="#bfe8d2"/><rect x="38.3" y="43.9" width="9.3" height="9.2" fill="#fff"/><circle cx="42.9" cy="46.9" r="1.4" fill="#bfe8d2"/><rect x="38.3" y="54.8" width="9.3" height="9.2" fill="#fff"/><circle cx="42.9" cy="57.8" r="1.4" fill="#bfe8d2"/><rect x="38.3" y="65.6" width="9.3" height="6" fill="#fff"/><rect x="15" y="72" width="34.1" height="3.8" fill="#fff"/><circle cx="32.3" cy="79.5" r="3" fill="none" stroke="#666" stroke-width="0.8"/><rect x="29" y="12" width="6" height="1.2" rx="0.6" fill="#777"/></g><rect x="636" y="310" width="204" height="164" fill="#fcfbf7"/>
<rect x="664" y="346" width="40" height="89" fill="#111"/>
<rect x="666.5" y="348.5" width="35" height="84" fill="#2c2c2c" stroke="#9a9a9a" stroke-width="0.9"/>
<line x1="684" y1="348.5" x2="684" y2="432.5" stroke="#9a9a9a" stroke-width="0.9"/>
<line x1="666.5" y1="400.5" x2="684" y2="400.5" stroke="#9a9a9a" stroke-width="0.9"/>
<rect x="668" y="350" width="6" height="49" fill="#3a3a3a"/>
<rect x="686" y="350" width="6" height="81" fill="#3a3a3a"/>
<circle cx="693" cy="402" r="2.6" fill="#111" stroke="#555" stroke-width="0.6"/><circle cx="692.5" cy="401.5" r="1" fill="#c33"/>
<rect x="710" y="341.5" width="96.5" height="70" rx="1" fill="#2e2e2e"/>
<rect x="715" y="346" width="87" height="61" fill="url(#gMon)"/>
<rect x="754" y="411.5" width="9" height="8" fill="#333"/>
<ellipse cx="758" cy="422" rx="28" ry="3.6" fill="#2e2e2e"/>
<polygon points="716,429 804,429 806.5,438 713.5,438" fill="#6e6e6e"/>
<rect x="717" y="430.5" width="86" height="4" fill="#4a4a4a"/>
<line x1="717" y1="432.5" x2="803" y2="432.5" stroke="#8a8a8a" stroke-width="0.6" stroke-dasharray="1.5,1"/><rect x="1262" y="453" width="121" height="97" fill="#fcfbf7"/>
<rect x="1287" y="550" width="70" height="55" fill="#fcfbf7"/>
<rect x="1275.5" y="485.5" width="47" height="35" rx="1.5" fill="#fff" stroke="#0aa0ff" stroke-width="3"/>
<rect x="1274" y="517.5" width="50" height="5.5" rx="1" fill="#0aa0ff"/>
<rect x="1296" y="522" width="5" height="4.5" fill="#0aa0ff"/>
<rect x="1288" y="526" width="21" height="3.7" rx="1" fill="#0aa0ff"/>
<rect x="1329.5" y="469" width="31.5" height="61" rx="2" fill="#666"/>
<rect x="1334" y="475.5" width="22.5" height="7.5" fill="#fff"/>
<line x1="1334" y1="486.8" x2="1356.5" y2="486.8" stroke="#fff" stroke-width="1.1"/>
<line x1="1334" y1="490.8" x2="1356.5" y2="490.8" stroke="#fff" stroke-width="1.1"/>
<line x1="1334" y1="494.8" x2="1356.5" y2="494.8" stroke="#fff" stroke-width="1.1"/>
<circle cx="1353.5" cy="522" r="2.6" fill="none" stroke="#fff" stroke-width="1.3"/>
<rect x="1300" y="556" width="44" height="27" fill="url(#gCyl)"/>
<ellipse cx="1322" cy="583" rx="22" ry="8.5" fill="#d4d4dc"/>
<ellipse cx="1322" cy="556" rx="22" ry="9.5" fill="#f2f2f5"/>
<path d="M1309,551 L1316,555 M1335,550 L1312,563 M1329,559 L1336,563" stroke="#e04a5a" stroke-width="1.5"/>
<path d="M1335,550 l-3.5,0.2 l1.5,2.2 z M1312,563 l3.5,-0.3 l-1.6,-2.1 z" fill="#e04a5a"/>
<path d="M1305,571 q4,5 2,9 M1306,577 q3,-4 5,-2" stroke="#e06a7a" stroke-width="0.9" fill="none"/><g transform="translate(65,540)">
<rect x="12" y="4.9" width="42.7" height="53.6" fill="#fcfbf7"/>
<rect x="20.4" y="7.8" width="22.4" height="46.4" rx="5" fill="#8a8a8a" stroke="#3a3a3a" stroke-width="1"/>
<rect x="22.2" y="15.7" width="18.4" height="28.7" fill="url(#gPh)"/>
<polygon points="32,15.7 40.6,15.7 40.6,44.4 27,44.4" fill="#1f78c8" opacity="0.35"/>
<circle cx="31.4" cy="49.3" r="2.4" fill="#333"/>
<circle cx="24.5" cy="11.2" r="0.9" fill="#222"/><circle cx="26.6" cy="11.2" r="0.9" fill="#222"/>
<rect x="1" y="74.8" width="65" height="51" fill="#fcfbf7"/>
<path d="M11.5,97.5 C10,86 25,83 33.5,83 C42,83 57,86 55.5,97.5 L48,99.5 C47.5,94 45,91.5 42,91.5 L25,91.5 C22,91.5 19.5,94 19,99.5 Z" fill="#6e6e6e"/>
<path d="M23.5,91 L30.5,91 L30.5,95 L36.5,95 L36.5,91 L42.5,91 L51,112 L51,118.6 L15.2,118.6 L15.2,112 Z" fill="#0aa0ff"/>
<g fill="#fff"><rect x="26" y="98.6" width="3.4" height="2.4"/><rect x="31.6" y="98.6" width="3.4" height="2.4"/><rect x="37" y="98.6" width="3.4" height="2.4"/>
<rect x="26" y="102.2" width="3.4" height="2.4"/><rect x="31.6" y="102.2" width="3.4" height="2.4"/><rect x="37" y="102.2" width="3.4" height="2.4"/>
<rect x="26" y="105.6" width="3.4" height="2.4"/><rect x="31.6" y="105.6" width="3.4" height="2.4"/><rect x="37" y="105.6" width="3.4" height="2.4"/></g>
</g>
<g transform="translate(65,680)">
<rect x="1" y="4.9" width="65.6" height="48.7" fill="#fcfbf7"/>
<path d="M27.5,42 L13.2,42 L13.2,15.4 L54.5,15.4 L54.5,31" fill="none" stroke="#10a5ff" stroke-width="2.6"/>
<path d="M14.5,16.5 L33.5,31 L53,16.5 M19.5,36 L27,28 M40,28 L43.5,31.5" fill="none" stroke="#10a5ff" stroke-width="1.6"/>
<polygon points="32.5,36.3 47.7,36.3 47.7,32 59,38.9 47.7,45.5 47.7,41.7 32.5,41.7" fill="#6a6a6a"/>
<rect x="12" y="75.8" width="44" height="52.6" fill="#fcfbf7"/>
<path d="M21.7,97.5 L21.7,84 Q21.7,77.5 28,77.5 L40.3,77.5 Q46.6,77.5 46.6,84 L46.6,97.5 Z" fill="#f7e2e2"/>
<g stroke="#7a7a7a" stroke-width="1.3"><line x1="23.8" y1="85.6" x2="44.4" y2="85.6"/><line x1="23.8" y1="89" x2="44.4" y2="89"/><line x1="23.8" y1="92.3" x2="44.4" y2="92.3"/><line x1="23.8" y1="95.3" x2="44.4" y2="95.3"/></g>
<path d="M20.8,97.5 L47.1,97.5 L47.1,113.7 A13.15,13.15 0 0 1 20.8,113.7 Z" fill="#b80f1a"/>
<path d="M25.5,104 Q25.5,120.5 34,120.5 Q40.5,120.5 42,113" fill="none" stroke="#f0a8b0" stroke-width="1.8" opacity="0.75"/>
</g>
<g transform="translate(65,820)">
<ellipse cx="31.5" cy="27.6" rx="16.7" ry="13.5" fill="url(#gWc)"/>
<polygon points="22,37 20,43.5 28,40" fill="#86cc22"/>
<circle cx="26" cy="23.8" r="2.2" fill="#111"/><circle cx="37.9" cy="24.1" r="2.2" fill="#111"/>
<ellipse cx="41.3" cy="40" rx="13.4" ry="10.8" fill="url(#gWw)"/>
<polygon points="47,49 50.5,52 44.5,50.3" fill="#ddd"/>
<circle cx="37.1" cy="36.6" r="1.9" fill="#111"/><circle cx="46.6" cy="36.4" r="1.9" fill="#111"/>
</g><g transform="translate(620,705)">
<polygon points="39.7,9.7 220,10.2 246.5,29.2 19.4,29.2" fill="#2c2c2c"/>
<rect x="19.4" y="29.2" width="227.9" height="23.8" fill="#161616"/>
<rect x="86.6" y="31.8" width="77.7" height="19.4" fill="url(#pVent)"/>
<rect x="6.2" y="29.2" width="13.2" height="45.8" fill="#1c1c1c"/>
<rect x="247.3" y="29.2" width="11.5" height="45.8" fill="#1c1c1c"/>
<rect x="9.4" y="31.3" width="6" height="3" rx="1.5" fill="#eee"/><rect x="9.4" y="48" width="6" height="3" rx="1.5" fill="#eee"/>
<rect x="249.7" y="31.3" width="6" height="3" rx="1.5" fill="#eee"/><rect x="249.7" y="48" width="6" height="3" rx="1.5" fill="#eee"/>
<rect x="6.2" y="53" width="252.6" height="22" fill="#1e1e1e"/>
<rect x="135" y="56.5" width="120.3" height="5.3" fill="#3a9e58"/><rect x="135" y="56.5" width="120.3" height="5.3" fill="url(#pTerm)"/><rect x="135" y="62.3" width="120.3" height="1" fill="#777" opacity="0.6"/>
<rect x="150" y="64.5" width="102.7" height="9.7" fill="#2e2e2e"/>
<rect x="34" y="57" width="14" height="11" fill="#050505" stroke="#555" stroke-width="0.6"/>
<rect x="46.3" y="56.5" width="3.5" height="15" fill="#d8d8d8"/>
<rect x="21" y="59" width="4" height="4" fill="#b22"/>
<rect x="77.7" y="65.4" width="15.9" height="5.3" rx="1.5" fill="#3358c8"/>
<rect x="99" y="64.5" width="8" height="5.3" fill="#3a70dc"/>
<rect x="108.5" y="64.5" width="7.5" height="5.3" fill="#ddd"/>
<rect x="117.5" y="64.5" width="9.7" height="7" fill="none" stroke="#ddd" stroke-width="0.9"/>
<rect x="57" y="66" width="5" height="4" fill="none" stroke="#ccc" stroke-width="0.7"/>
<circle cx="132" cy="67.5" r="1.8" fill="none" stroke="#ccc" stroke-width="0.7"/>
<circle cx="140" cy="67.5" r="1.8" fill="#d06aa0"/>
<text x="210" y="43" font-size="3.5" fill="#ccc" font-family="Liberation Sans">POWER</text>
<text x="231" y="43" font-size="3.5" fill="#ccc" font-family="Liberation Sans">RUN</text>
</g><g transform="translate(40,1000)">
<polygon points="6.9,24.5 19.7,23.5 19.7,84.3 6.9,83.5" fill="#e4e4e4"/>
<rect x="19.7" y="23.5" width="45.9" height="60.8" fill="#f5f5f5" stroke="#e0e0e0" stroke-width="0.5"/>
<rect x="22.7" y="31" width="39.5" height="40" fill="#fdfdfd" stroke="#e6e6e6" stroke-width="0.6"/>
<rect x="26.1" y="34.7" width="32" height="32" fill="#c8caae"/>
<text x="28" y="49.5" font-size="13" fill="#333" font-family="Liberation Mono" textLength="28" lengthAdjust="spacingAndGlyphs">19.77</text>
<text x="28" y="63" font-size="13" fill="#333" font-family="Liberation Mono" textLength="28" lengthAdjust="spacingAndGlyphs">48.74</text>
<g fill="#fff" stroke="#cfcfcf" stroke-width="0.5"><rect x="30" y="73.6" width="5" height="4"/><rect x="37" y="73.6" width="5" height="4"/><rect x="44" y="73.6" width="5" height="4"/><rect x="51" y="73.6" width="5" height="4"/></g>
<g fill="#555"><rect x="10.7" y="73.6" width="5.3" height="1.6"/><rect x="10.7" y="76.6" width="5.3" height="1.6"/><rect x="10.7" y="79.6" width="5.3" height="1.6"/></g>
<ellipse cx="114.4" cy="56.5" rx="35.5" ry="33.9" fill="#d9bd20"/><ellipse cx="114.3" cy="56.5" rx="33.5" ry="32.0" fill="none" stroke="#b3950c" stroke-width="0.9"/><ellipse cx="114.3" cy="56.2" rx="31.2" ry="29.8" fill="none" stroke="#f0dc50" stroke-width="0.9"/><ellipse cx="114.3" cy="55.9" rx="28.9" ry="27.6" fill="none" stroke="#b3950c" stroke-width="0.9"/><ellipse cx="114.3" cy="55.7" rx="26.6" ry="25.4" fill="none" stroke="#f0dc50" stroke-width="0.9"/><ellipse cx="114.3" cy="55.4" rx="24.3" ry="23.2" fill="none" stroke="#b3950c" stroke-width="0.9"/><ellipse cx="114.3" cy="55.1" rx="22.0" ry="21.0" fill="none" stroke="#f0dc50" stroke-width="0.9"/><ellipse cx="114.3" cy="54.8" rx="19.7" ry="18.8" fill="none" stroke="#b3950c" stroke-width="0.9"/><ellipse cx="114.3" cy="54.6" rx="17.4" ry="16.6" fill="none" stroke="#f0dc50" stroke-width="0.9"/><ellipse cx="114.3" cy="54.3" rx="15.1" ry="14.4" fill="none" stroke="#b3950c" stroke-width="0.9"/><ellipse cx="114.3" cy="54.0" rx="12.8" ry="12.2" fill="none" stroke="#f0dc50" stroke-width="0.9"/><ellipse cx="114.3" cy="53.7" rx="10.5" ry="10.0" fill="none" stroke="#b3950c" stroke-width="0.9"/><ellipse cx="114.3" cy="53.5" rx="8.2" ry="7.8" fill="none" stroke="#f0dc50" stroke-width="0.9"/><ellipse cx="114.3" cy="53.2" rx="5.9" ry="5.6" fill="none" stroke="#b3950c" stroke-width="0.9"/><circle cx="114" cy="52" r="2.3" fill="#fff"/><g transform="rotate(14 140 70)"><rect x="133" y="54" width="14" height="32" rx="1" fill="#46b8a6"/><rect x="136" y="58" width="8" height="10" fill="#c8d050"/><rect x="136" y="70" width="8" height="12" fill="#b8c858" opacity="0.9"/><rect x="138" y="60" width="4" height="5" fill="#333" opacity="0.6"/></g><path d="M126,86 Q131,90 138,88" fill="none" stroke="#c8a810" stroke-width="1.5"/>
</g><g transform="translate(200,1000)">
<g fill="#e2e2e2" stroke="#9a9a9a" stroke-width="0.6"><circle cx="9.8" cy="25.7" r="2.8"/><circle cx="71.5" cy="25.7" r="2.8"/><circle cx="9.8" cy="47.7" r="2.8"/><circle cx="71.5" cy="47.7" r="2.8"/><circle cx="9.8" cy="68.2" r="2.8"/><circle cx="71.5" cy="68.2" r="2.8"/></g>
<rect x="11.7" y="22" width="57.2" height="49.8" rx="2" fill="#f2f2f2" stroke="#d0d0d0" stroke-width="0.8"/>
<rect x="15.4" y="29.3" width="47.6" height="12.5" fill="#fbfbfb"/>
<circle cx="23.4" cy="34.4" r="4.2" fill="#d42a2a"/><circle cx="23.4" cy="34.8" r="2.4" fill="#2a4ab0"/>
<rect x="29" y="32" width="29" height="3" fill="#555" opacity="0.55"/>
<rect x="29" y="37.2" width="27" height="1" fill="#888" opacity="0.5"/>
<circle cx="38.9" cy="55.7" r="9" fill="#ececec" stroke="#e0e0e0" stroke-width="0.5"/>
<rect x="22" y="71.8" width="10.3" height="11.8" fill="#eee" stroke="#bbb" stroke-width="0.5"/>
<rect x="25.7" y="83.6" width="2.3" height="11" fill="#111"/>
<rect x="47" y="71.8" width="10.2" height="18.4" rx="2" fill="#f3f3f3" stroke="#cdcdcd" stroke-width="0.6"/>
<g fill="none" stroke="#161616" stroke-width="1.1">
<ellipse cx="115.8" cy="58.7" rx="24" ry="22.3"/><ellipse cx="116.5" cy="58" rx="22.5" ry="21.5" transform="rotate(-12 116 58)"/><ellipse cx="115" cy="59.5" rx="24.5" ry="21" transform="rotate(10 115 59)"/><ellipse cx="117" cy="58.5" rx="21" ry="22.5"/><ellipse cx="115" cy="60" rx="23" ry="20" transform="rotate(-25 115 60)"/><ellipse cx="116" cy="58" rx="20" ry="21" transform="rotate(20 116 58)"/></g>
<path d="M137,44 Q141,52 139,62" fill="none" stroke="#161616" stroke-width="1.3"/>
<line x1="112.5" y1="15" x2="136.5" y2="43" stroke="#777" stroke-width="5" stroke-linecap="round"/>
<line x1="112.5" y1="15" x2="136.5" y2="43" stroke="#e0e0e0" stroke-width="3" stroke-linecap="round"/>
<rect x="171.6" y="7.3" width="28.5" height="94.6" fill="#efeee9" stroke="#d2d1cc" stroke-width="0.6"/>
<rect x="195" y="7.6" width="4.8" height="94" fill="#dedcd5"/>
<rect x="173" y="9.5" width="20.5" height="14.7" fill="#4c4c4c"/>
<g stroke="#7a7a7a" stroke-width="0.5"><line x1="173" y1="12" x2="193.5" y2="12"/><line x1="173" y1="15" x2="193.5" y2="15"/><line x1="173" y1="18" x2="193.5" y2="18"/><line x1="173" y1="21" x2="193.5" y2="21"/></g>
<rect x="177.4" y="29.3" width="8.8" height="1.8" fill="#55779f"/>
<line x1="172" y1="54" x2="195" y2="54" stroke="#d8d8d0" stroke-width="0.6"/>
<g stroke="#c9c9c2" stroke-width="0.7"><line x1="172.5" y1="56.0" x2="193.5" y2="56.0"/><line x1="172.5" y1="58.6" x2="193.5" y2="58.6"/><line x1="172.5" y1="61.2" x2="193.5" y2="61.2"/><line x1="172.5" y1="63.8" x2="193.5" y2="63.8"/><line x1="172.5" y1="66.4" x2="193.5" y2="66.4"/><line x1="172.5" y1="69.0" x2="193.5" y2="69.0"/><line x1="172.5" y1="71.6" x2="193.5" y2="71.6"/><line x1="172.5" y1="74.2" x2="193.5" y2="74.2"/><line x1="172.5" y1="76.8" x2="193.5" y2="76.8"/><line x1="172.5" y1="79.4" x2="193.5" y2="79.4"/><line x1="172.5" y1="82.0" x2="193.5" y2="82.0"/><line x1="172.5" y1="84.6" x2="193.5" y2="84.6"/><line x1="172.5" y1="87.2" x2="193.5" y2="87.2"/><line x1="172.5" y1="89.8" x2="193.5" y2="89.8"/><line x1="172.5" y1="92.4" x2="193.5" y2="92.4"/></g>
<rect x="171.6" y="96.8" width="28.5" height="5.1" fill="#6a6a6a"/>
</g><g transform="translate(485,1010)">
<path d="M10.8,72.5 L10.8,21 Q11,14.2 30,14.2 Q54,14.2 54.2,21 L54.2,72.5 Z" fill="url(#gPir)" stroke="#d6d6d6" stroke-width="0.6"/>
<ellipse cx="31" cy="17" rx="19" ry="3" fill="#fafafa"/>
<rect x="26.7" y="19" width="3.3" height="29" fill="#fbfbfb" stroke="#dedede" stroke-width="0.4"/>
<circle cx="28.3" cy="33.3" r="1.3" fill="#e62a2a"/><circle cx="28.3" cy="36.7" r="1.3" fill="#3cbf3c"/>
<path d="M11,72.5 Q17,52 27,48 L30,48 Q42,51 54,72.5 Z" fill="#e6e6e6"/>
<g stroke="#b8b8b8" stroke-width="0.8"><line x1="21" y1="59" x2="40" y2="59"/><line x1="18.5" y1="62.5" x2="42" y2="62.5"/><line x1="17" y1="66" x2="44" y2="66"/></g>
<rect x="105" y="15" width="40" height="65" fill="#dcdcdc" stroke="#8a8a8a" stroke-width="1.2"/>
<rect x="107" y="17" width="36" height="61" fill="#ececec"/>
<polygon points="107,78 112,70 143,70 143,78" fill="#9a9a9a"/>
<rect x="109" y="20" width="4" height="2.5" fill="#444"/>
<rect x="109" y="45" width="3" height="9" fill="#e6d2a8"/>
<polygon points="117.5,10.8 143.3,16.7 143.3,80 117.5,86.7" fill="#3a4046"/>
<polygon points="121.5,17 139.3,20.5 139.3,43.5 121.5,43.5" fill="#bdbdbd"/>
<polygon points="121.5,47 139.3,47 139.3,76.5 121.5,80" fill="#b3b3b3"/>
<path d="M181.2,36 Q181.2,22.6 210,22.6 Q238.6,22.6 238.6,36 L238.6,44 Q238.6,75.7 212,75.7 Q181.2,75.7 181.2,44 Z" fill="url(#gDome)" stroke="#d4d4d4" stroke-width="0.7"/>
<path d="M181.5,26 Q210,20 238.5,26" fill="none" stroke="#e6e6e6" stroke-width="0.6"/>
<path d="M183,43 Q205,36 237,41" fill="none" stroke="#cfcfcf" stroke-width="0.7"/>
<ellipse cx="212.9" cy="59.9" rx="18.4" ry="16.6" fill="#f7f7f7" stroke="#dedede" stroke-width="0.6"/>
<ellipse cx="212.9" cy="61.1" rx="13.1" ry="12.5" fill="#1e1e1e"/>
<ellipse cx="212.9" cy="61.1" rx="10" ry="9.5" fill="none" stroke="#3a3a3a" stroke-width="1.6" stroke-dasharray="1.5,1.2"/>
<circle cx="212.9" cy="60" r="6.3" fill="#0e0e0e" stroke="#2c2c2c" stroke-width="1"/>
<circle cx="213.2" cy="60.3" r="1.3" fill="#6a5030"/>
<circle cx="215.8" cy="50" r="1.3" fill="#ff6a8a"/>
</g><g transform="translate(810,1020)">
<circle cx="35.4" cy="37.1" r="26.4" fill="url(#gSmk)"/>
<circle cx="33.2" cy="36.6" r="17" fill="#f0eeea" stroke="#e2dfda" stroke-width="0.6"/>
<g stroke="#3a3a3a" stroke-width="1.3"><line x1="37" y1="22.5" x2="40" y2="24.5"/><line x1="44" y1="31" x2="44" y2="36"/><line x1="38" y1="46" x2="42" y2="43"/><line x1="25" y1="50.5" x2="29" y2="50.5"/></g>
<circle cx="43" cy="21.5" r="1" fill="#333"/><circle cx="17.5" cy="49.5" r="1" fill="#333"/>
<rect x="78" y="14.2" width="81.6" height="47.4" fill="#f2f2f2"/>
<polygon points="118.8,33 126,30.4 157.8,35 157.8,57 150,61 118.8,58" fill="#dcdee2" stroke="#b8bcc2" stroke-width="0.6"/>
<polygon points="118.8,33 126,30.4 157.8,35 150,38" fill="#eceef0"/>
<line x1="150" y1="38" x2="150" y2="61" stroke="#b0b4ba" stroke-width="0.6"/>
<g stroke="#9ea2a8" stroke-width="0.5" fill="none"><rect x="124" y="42" width="8" height="12"/><rect x="134" y="42" width="8" height="12"/><line x1="143" y1="40" x2="143" y2="58"/></g>
<rect x="120" y="40" width="3" height="3" fill="#999"/><rect x="120" y="52" width="3" height="3" fill="#999"/>
<polygon points="82.2,34.6 115.2,15.4 119.4,16.6 130.8,22 130.8,29.2 119.7,35.8 118.2,57.4 113,59 83.4,57.4" fill="#161616"/>
<polygon points="82.2,34.6 115.2,15.4 130.8,22 96,40.5" fill="#262626"/>
<g fill="#3a3a3a"><rect x="86" y="37.5" width="30" height="2.2"/><rect x="86" y="44" width="30" height="2.2"/><rect x="86" y="50.5" width="30" height="2.2"/></g>
<g fill="#8a8a8a"><rect x="96" y="37" width="2.2" height="1.6"/><rect x="108" y="36" width="2.2" height="1.6"/><rect x="96" y="43.5" width="2.2" height="1.6"/><rect x="108" y="43" width="2.2" height="1.6"/><rect x="96" y="50" width="2.2" height="1.6"/><rect x="108" y="49.5" width="2.2" height="1.6"/></g>
<rect x="81" y="36.4" width="4.8" height="15" rx="1.5" fill="#f27a1c"/>
</g><g transform="translate(1130,995)">
<polygon points="20.6,9 33,7.2 33,104 20.6,101.5" fill="#e0e0e0"/>
<rect x="33" y="7.2" width="28.3" height="96.8" fill="#f3f3f3" stroke="#d6d6d6" stroke-width="0.5"/>
<rect x="34.5" y="11" width="25.8" height="18.2" fill="#444"/>
<g stroke="#777" stroke-width="0.7"><line x1="38" y1="11" x2="38" y2="29"/><line x1="42" y1="11" x2="42" y2="29"/><line x1="46" y1="11" x2="46" y2="29"/><line x1="50" y1="11" x2="50" y2="29"/><line x1="54" y1="11" x2="54" y2="29"/><line x1="58" y1="11" x2="58" y2="29"/></g>
<rect x="41.2" y="37.4" width="12.9" height="11.5" fill="#2c2c2c"/>
<rect x="42.2" y="38.5" width="10.9" height="9.3" fill="#2f86d8"/>
<line x1="33" y1="69.4" x2="61.3" y2="69.4" stroke="#cfcfcf" stroke-width="0.6"/>
<g fill="#e6e6e6" stroke="#cfcfcf" stroke-width="0.5"><rect x="35" y="78" width="8" height="24"/><rect x="44.5" y="78" width="7" height="24"/><rect x="53" y="78" width="7.5" height="24"/></g><polygon points="22,80 32,79 32,102 22,100" fill="#d2d2d2"/><g stroke="#d6d6d6" stroke-width="0.5"><line x1="34.5" y1="79.0" x2="60" y2="79.0"/><line x1="34.5" y1="81.0" x2="60" y2="81.0"/><line x1="34.5" y1="83.0" x2="60" y2="83.0"/><line x1="34.5" y1="85.0" x2="60" y2="85.0"/><line x1="34.5" y1="87.0" x2="60" y2="87.0"/><line x1="34.5" y1="89.0" x2="60" y2="89.0"/><line x1="34.5" y1="91.0" x2="60" y2="91.0"/><line x1="34.5" y1="93.0" x2="60" y2="93.0"/><line x1="34.5" y1="95.0" x2="60" y2="95.0"/><line x1="34.5" y1="97.0" x2="60" y2="97.0"/><line x1="34.5" y1="99.0" x2="60" y2="99.0"/></g>
<rect x="34" y="74.2" width="6.2" height="2.4" fill="#222"/><rect x="55" y="73.3" width="5.8" height="2.4" fill="#222"/>
<circle cx="24" cy="103" r="1.8" fill="#222"/><circle cx="32" cy="105.8" r="2" fill="#222"/><circle cx="56" cy="103" r="1.8" fill="#222"/>
</g><g transform="translate(1350,1010)"><path d="M42.0,22.8 L43.4,12.8 L55.6,12.8 L57.0,22.8 L61.0,24.5 L69.0,18.3 L77.7,27.0 L71.5,35.0 L73.2,39.0 L83.2,40.4 L83.2,52.6 L73.2,54.0 L71.5,58.0 L77.7,66.0 L69.0,74.7 L61.0,68.5 L57.0,70.2 L55.6,80.2 L43.4,80.2 L42.0,70.2 L38.0,68.5 L30.0,74.7 L21.3,66.0 L27.5,58.0 L25.8,54.0 L15.8,52.6 L15.8,40.4 L25.8,39.0 L27.5,35.0 L21.3,27.0 L30.0,18.3 L38.0,24.5 Z" fill="none" stroke="#4a88e8" stroke-width="3.4" stroke-linejoin="round"/><circle cx="49.5" cy="46.9" r="13" fill="#8db6f8" stroke="#5d9cf2" stroke-width="3.4"/></g></svg>
<div class="t ttl">档案室监控系统拓扑图</div>
<div class="t lbl" style="left:121px;top:235px">档案室A</div>
<div class="t lbl" style="left:349px;top:235px">档案室B</div>
<div class="t lbl" style="left:577px;top:235px">档案室C</div>
<div class="t lbl" style="left:805px;top:237px">档案室D</div>
<div class="t lbl" style="left:1033px;top:237px">档案室E</div>
<div class="t lbl" style="left:1208px;top:185px;font-size:22px;letter-spacing:0.5px">多个档案室集中管理</div>
<div class="t lbl" style="left:66px;top:415px;font-size:24px">安卓平板</div>
<div class="t lbl" style="left:221px;top:415px;font-size:24px">电脑远程</div>
<div class="t lbl" style="left:376px;top:415px;font-size:24px">手机APP</div>

<svg class="a" style="left:0;top:0" width="1500" height="1200">
<line x1="756" y1="273" x2="756" y2="341" stroke="#2f8ff8" stroke-width="2.2" stroke-dasharray="9.2,2.8"/>
<line x1="494" y1="371" x2="654" y2="371" stroke="#0096ff" stroke-width="2.2" stroke-dasharray="4,2,10,2,10,2,10,2,10,2,10,2,10,2,10,2,10,2,10,2,10,2,10,2,10,2,10,2,10,2"/>
<rect x="496" y="702" width="532" height="90" rx="9" fill="none" stroke="#0095ff" stroke-width="2.4" stroke-dasharray="8,4"/>
</svg>
<div class="t blue" style="left:763px;top:296px;font-size:24px">TCP/IP</div>
<div class="t blue" style="left:530px;top:377px;font-size:24px;letter-spacing:1.3px">internet</div>
<div class="t lbl" style="left:811px;top:415px;font-size:24px">监控中心</div>
<div class="vl" style="left:759px;top:438px;height:40px"></div>

<div class="t" style="left:701px;top:486px;width:26px;font-size:24px;line-height:27.2px;color:#fff;white-space:normal;text-align:center">数据传输方式</div>
<div class="t blue" style="left:745px;top:503px;font-size:25px">4G</div>
<div class="t blue" style="left:745px;top:557px;font-size:25px;letter-spacing:-1.5px">TCP</div>
<div class="t blue" style="left:745px;top:615px;font-size:25px;letter-spacing:-1.2px">RS485</div>
<div class="hl" style="left:829px;top:557px;width:429px"></div>
<div class="vl" style="left:759px;top:657px;height:45px"></div>

<div class="t lbl" style="left:1196px;top:607px;font-size:22px;letter-spacing:0.9px">第三方平台/支持二次开发</div>
<div class="hl" style="left:293px;top:743px;width:203px;background:#0096ff"></div>

<div class="t lbl" style="left:553px;top:800px"><span style="font-size:24px;letter-spacing:-0.1px">SPD-U03A</span><span style="letter-spacing:0.3px">动环采集主机（集成服务器）</span></div>
<div class="vl" style="left:756px;top:826px;height:86px"></div>
<div class="t blue" style="left:763px;top:877px;font-size:24px;letter-spacing:0.2px">RS485总线/开关量/TCP</div>

<div class="hl" style="left:240px;top:910px;width:1161px"></div>
<div class="vl" style="left:240px;top:910px;height:36px"></div>
<div class="vl" style="left:610px;top:910px;height:36px"></div>
<div class="vl" style="left:880px;top:910px;height:36px"></div>
<div class="vl" style="left:1160px;top:910px;height:36px"></div>
<div class="vl" style="left:1399px;top:910px;height:36px"></div>

<div class="cl" style="left:44px;top:1122px">温湿度</div>
<div class="cl" style="left:136px;top:1122px">漏水</div>
<div class="cl" style="left:197px;top:1122px">空气质量</div>
<div class="cl" style="left:300px;top:1122px">水位</div>
<div class="cl" style="left:366px;top:1122px">空调</div>
<div class="cl" style="left:498px;top:1122px">红外</div>
<div class="cl" style="left:588px;top:1122px">门禁</div>
<div class="cl" style="left:671px;top:1122px">视频</div>
<div class="cl" style="left:827px;top:1120px">烟感</div>
<div class="cl" style="left:897px;top:1120px">继电器</div>
<div class="cl" style="left:1090px;top:1122px">恒湿净化一体机</div>
<div class="cl" style="left:1370px;top:1122px">更多<span style="letter-spacing:-0.6px">......</span></div>
</body></html>
